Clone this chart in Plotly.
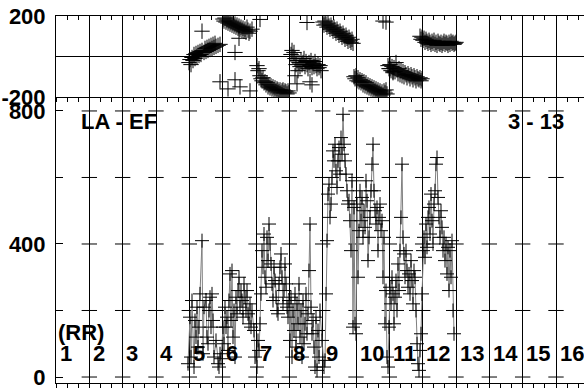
"""Two-panel trace: phase (top) and RR values (bottom) over hours 1-16."""
import plotly.graph_objects as go

# bottom panel: RR series (hour, value)
rr_hour = [4.96, 5.02, 5.05, 5.08, 5.14, 5.17, 5.20, 5.23, 5.26, 5.29, 5.32, 5.38, 5.41, 5.44,
           5.50, 5.53, 5.56, 5.59, 5.62, 5.65, 5.68, 5.71, 5.74, 5.80, 5.86, 5.89, 5.92, 5.95,
           6.01, 6.04, 6.07, 6.10, 6.13, 6.16, 6.19, 6.22, 6.25, 6.28, 6.31, 6.34, 6.37, 6.40,
           6.43, 6.46, 6.49, 6.52, 6.55, 6.58, 6.61, 6.64, 6.67, 6.70, 6.73, 6.76, 6.79, 6.82,
           6.85, 6.88, 6.94, 6.97,
           7.03, 7.06, 7.09, 7.12, 7.15, 7.18, 7.21, 7.24, 7.27, 7.30, 7.33, 7.36, 7.39, 7.42,
           7.45, 7.48, 7.51, 7.54, 7.57, 7.60, 7.63, 7.66, 7.69, 7.72, 7.75, 7.78, 7.81, 7.84,
           7.87, 7.90, 7.93, 7.96, 7.99, 8.02,
           8.05, 8.08, 8.11, 8.14, 8.17, 8.20, 8.23, 8.26, 8.29, 8.32, 8.35, 8.38, 8.41, 8.44,
           8.47, 8.50, 8.53, 8.56, 8.59, 8.62, 8.65, 8.68, 8.71, 8.74, 8.77, 8.80, 8.83, 8.86,
           8.89, 8.92, 8.98,
           9.04, 9.07, 9.10, 9.13, 9.16, 9.19, 9.22, 9.25, 9.28, 9.31, 9.34, 9.37, 9.40, 9.43,
           9.46, 9.49, 9.52, 9.55, 9.58, 9.61, 9.64, 9.67, 9.70, 9.73, 9.76, 9.79, 9.82, 9.85,
           9.88, 9.91, 9.94, 9.97, 10.00,
           10.03, 10.06, 10.09, 10.12, 10.15, 10.18, 10.21, 10.24, 10.27, 10.30, 10.33, 10.36,
           10.39, 10.42, 10.45, 10.48, 10.51, 10.54, 10.57, 10.60, 10.63, 10.66, 10.69, 10.72,
           10.75, 10.78, 10.81, 10.84, 10.87, 10.90, 10.93, 10.96,
           10.99, 11.02, 11.05, 11.08, 11.11, 11.14, 11.17, 11.20, 11.23, 11.26, 11.29, 11.32,
           11.35, 11.38, 11.41, 11.44, 11.47, 11.50, 11.53, 11.56, 11.59, 11.62, 11.65, 11.68,
           11.71, 11.74, 11.77, 11.80, 11.83, 11.86, 11.89, 11.92, 11.95, 11.98,
           12.01, 12.04, 12.07, 12.10, 12.13, 12.16, 12.19, 12.22, 12.25, 12.28, 12.31, 12.34,
           12.37, 12.40, 12.43, 12.46, 12.49, 12.52, 12.55, 12.58, 12.61, 12.64, 12.67, 12.70,
           12.73, 12.76, 12.79, 12.82, 12.85, 12.88, 12.91, 12.94]
rr_value = [40, 180, 60, 230, 30, 170, 120, 210, 90, 150, 250, 410, 70, 210,
            230, 120, 100, 200, 240, 150, 250, 170, 60, 110, 40, 30, 70, 55,
            150, 100, 210, 150, 180, 80, 230, 310, 170, 320, 120, 200, 60, 240,
            190, 260, 300, 210, 260, 230, 180, 280, 240, 200, 260, 190, 160, 220,
            150, 200, 140, 60,
            30, 110, 80, 160, 250, 380, 330, 430, 300, 270, 420, 350, 460, 400,
            340, 280, 230, 330, 290, 240, 200, 190, 280, 330, 370, 300, 220, 260,
            340, 280, 210, 180, 230, 110,
            240, 60, 200, 140, 250, 90, 220, 160, 280, 120, 200, 60, 230, 100,
            160, 250, 130, 190, 320, 460, 210, 130, 170, 90, 30, 180, 20, 140,
            60, 200, 110,
            30, 50, 250, 410, 550, 580, 480, 520, 600, 680, 650, 700, 620, 570,
            650, 690, 610, 720, 670, 790, 700, 650, 610, 560, 520, 530, 470, 380,
            590, 150, 510, 160, 130,
            520, 300, 440, 560, 470, 540, 420, 500, 450, 590, 530, 350,
            420, 480, 560, 640, 700, 560, 500, 460, 510, 380, 480, 520,
            440, 470, 300, 420, 160, 260, 60, 30,
            150, 270, 220, 300, 250, 160, 240, 290, 200, 340, 260, 380,
            480, 640, 420, 370, 300, 380, 320, 270, 310, 250, 350, 290,
            220, 320, 300, 200, 100, 40, 20, 80, 130, 250,
            380, 420, 360, 460, 390, 480, 510, 430, 550, 470, 400, 520,
            560, 640, 660, 540, 480, 420, 500, 450, 380, 420, 350, 400,
            310, 390, 260, 380, 300, 410, 200, 130]

# top panel: phase (hour, degrees)
phase_hour = [4.99, 5.02, 5.05, 5.08, 5.11, 5.14, 5.17, 5.20, 5.23, 5.26, 5.29, 5.32, 5.35, 5.38,
              5.44, 5.47, 5.50, 5.53, 5.56, 5.59, 5.62, 5.65, 5.68, 5.71, 5.74, 5.77, 5.80, 5.86,
              5.92,
              5.38, 5.92, 6.37, 6.49, 6.16, 6.37, 6.52, 6.82,
              6.01, 6.04, 6.07, 6.10, 6.13, 6.16, 6.19, 6.22, 6.25, 6.28, 6.31, 6.34, 6.37, 6.40,
              6.43, 6.46, 6.49, 6.52, 6.55, 6.58, 6.61, 6.64, 6.67, 6.70, 6.73, 6.76, 6.79, 6.82,
              6.88, 7.12,
              7.03, 7.06, 7.09, 7.12, 7.15, 7.18, 7.21, 7.24, 7.27, 7.30, 7.33, 7.36, 7.39, 7.42,
              7.45, 7.48, 7.51, 7.54, 7.57, 7.60, 7.63, 7.66, 7.69, 7.72, 7.75, 7.78, 7.81, 7.84,
              7.87, 7.90, 7.93, 7.96, 7.99,
              8.05, 8.08, 8.11, 8.14, 8.17, 8.20, 8.23, 8.26, 8.29, 8.32, 8.35, 8.38, 8.41, 8.44,
              8.47, 8.50, 8.53, 8.56, 8.59, 8.62, 8.65, 8.68, 8.71, 8.74, 8.77, 8.80, 8.83, 8.86,
              8.89, 8.92, 8.95,
              8.17, 8.23, 8.62, 8.68, 8.53,
              9.01, 9.04, 9.07, 9.10, 9.13, 9.16, 9.19, 9.22, 9.25, 9.28, 9.31, 9.34, 9.37, 9.40,
              9.43, 9.46, 9.49, 9.52, 9.55, 9.58, 9.61, 9.64, 9.67, 9.70, 9.73, 9.76, 9.79, 9.82,
              9.85, 9.88, 9.91,
              9.94, 9.97, 10.00, 10.03, 10.06, 10.09, 10.12, 10.15, 10.18, 10.21, 10.24, 10.27,
              10.30, 10.33, 10.36, 10.39, 10.42, 10.45, 10.48, 10.51, 10.54, 10.57, 10.60, 10.63,
              10.66, 10.69, 10.72, 10.75, 10.78, 10.81, 10.84, 10.87, 10.90, 10.93,
              10.81, 10.90, 11.11, 11.02,
              10.96, 10.99, 11.02, 11.05, 11.08, 11.11, 11.14, 11.17, 11.20, 11.23, 11.26, 11.29,
              11.32, 11.35, 11.38, 11.41, 11.44, 11.47, 11.50, 11.53, 11.56, 11.59, 11.62, 11.65,
              11.68, 11.71, 11.74, 11.77, 11.80, 11.83, 11.86, 11.89, 11.92, 11.95, 11.98,
              11.92, 11.95, 11.98, 12.01, 12.04, 12.07, 12.10, 12.13, 12.16, 12.19, 12.22, 12.25,
              12.28, 12.31, 12.34, 12.37, 12.40, 12.43, 12.46, 12.49, 12.52, 12.55, 12.58, 12.61,
              12.64, 12.67, 12.70, 12.73, 12.76, 12.79, 12.82, 12.85, 12.88, 12.91, 12.94, 12.97,
              13.00]
phase_value = [-30, -15, -40, -5, -20, 10, -10, 15, 0, 20, 5, 25, 10, 30,
               20, 40, 25, 45, 30, 50, 35, 55, 40, 60, 45, 65, 50, 55,
               60,
               125, -125, 20, 90, -160, -115, -150, -170,
               185, 175, 190, 170, 180, 165, 175, 160, 170, 155, 165, 150, 160, 145,
               155, 140, 150, 135, 145, 130, 140, 125, 135, 120, 145, 130, 115, 125,
               135, 183,
               -45, -70, -60, -95, -110, -120, -105, -130, -125, -140, -130, -150, -140, -155,
               -145, -160, -150, -165, -155, -170, -160, -165, -175, -165, -180, -170, -165, -180,
               -170, -175, -185, -170, -180,
               10, 30, 0, 20, -10, -40, -20, -70, -30, -50, -20, -40, -30, -10,
               -50, -25, -40, -60, -30, -45, -20, -55, -35, -50, -25, -45, -60, -40,
               -55, -45, -70,
               -95, -135, -125, -140, 168,
               170, 155, 175, 160, 145, 165, 150, 135, 155, 140, 125, 145, 130, 115,
               135, 120, 105, 125, 110, 95, 115, 100, 85, 105, 90, 75, 95, 80,
               70, 85, 65,
               -100, -110, -95, -120, -105, -125, -115, -130, -120, -140, -125, -145,
               -130, -150, -140, -155, -145, -160, -150, -165, -155, -170, -160, -175,
               -165, -180, -170, -185, -175, -190, -170, -180, -165, -185,
               175, 170, -75, -60,
               -45, -60, -40, -70, -50, -80, -55, -75, -30, -65, -85, -60,
               -90, -70, -95, -75, -100, -80, -90, -105, -85, -95, -110, -90,
               -100, -115, -95, -105, -120, -100, -110, -115, -105, -120, -110,
               100, 85, 95, 80, 90, 70, 85, 75, 65, 80, 70, 60,
               75, 65, 80, 60, 70, 55, 75, 65, 60, 70, 55, 65,
               75, 60, 70, 65, 55, 70, 60, 75, 65, 70, 60, 65,
               70]

hour_ticks = list(range(1, 17))
rr_ticks = [0, 200, 400, 600, 800]
rr_ticktext = ['0', '', '400', '', '800']
phase_ticks = [-200, 200]
phase_ticktext = ['-200', '200']

FONT = dict(family='Liberation Sans, Arial', size=22, color='black', weight='bold')
X_RANGE = [1, 16.84]
SPLIT = 0.7793

fig = go.Figure()

# small horizontal dashes where each hour line meets a value level
dash_x = [h for h in hour_ticks[1:] for _ in rr_ticks]
dash_y = [v for _ in hour_ticks[1:] for v in rr_ticks]
fig.add_trace(go.Scatter(x=dash_x, y=dash_y, mode='markers', hoverinfo='skip',
                         marker=dict(symbol='line-ew', size=11, line=dict(color='black', width=1))))

fig.add_trace(go.Scatter(x=rr_hour, y=rr_value, mode='lines+markers',
                         line=dict(color='#808080', width=1),
                         marker=dict(symbol='cross-thin-open', size=10, color='black',
                                     line=dict(color='black', width=1))))

fig.add_trace(go.Scatter(x=phase_hour, y=phase_value, mode='markers', xaxis='x2', yaxis='y2',
                         marker=dict(symbol='cross-thin-open', size=11, color='black',
                                     line=dict(color='black', width=1))))
# invisible trace so the top-side overlay axis is drawn
fig.add_trace(go.Scatter(x=[X_RANGE[0]], y=[0], mode='markers', xaxis='x3', yaxis='y2',
                         marker=dict(opacity=0), hoverinfo='skip'))

minor_out = dict(tick0=1, dtick=1 / 3, ticks='outside', ticklen=4, tickcolor='black')
minor_in = dict(tick0=1, dtick=1 / 3, ticks='inside', ticklen=4, tickcolor='black')
xcommon = dict(range=X_RANGE, tickmode='linear', tick0=1, dtick=1, showticklabels=False,
               showline=True, linecolor='black', linewidth=1, zeroline=False,
               tickcolor='black', ticklen=4, automargin=False)

fig.update_layout(
    width=584, height=390,
    margin=dict(l=56, r=0, t=16, b=7, autoexpand=False),
    paper_bgcolor='white', plot_bgcolor='white',
    showlegend=False,
    xaxis=dict(**xcommon, domain=[0, 1], anchor='y', ticks='outside', minor=minor_out,
               showgrid=True, gridcolor='black', gridwidth=1),
    xaxis2=dict(**xcommon, domain=[0, 1], anchor='y2', ticks='outside', minor=minor_out,
                showgrid=True, gridcolor='black', gridwidth=1),
    xaxis3=dict(**xcommon, anchor='y2', overlaying='x2', side='top', ticks='inside',
                minor=minor_in, showgrid=False),
    yaxis=dict(domain=[0, SPLIT], range=[-18, 842], tickmode='array', tickvals=rr_ticks,
               ticktext=rr_ticktext, ticks='inside', ticklen=7, tickcolor='black',
               showline=True, linecolor='black', showgrid=False, zeroline=False,
               tickfont=FONT, ticklabelstandoff=5, automargin=False),
    yaxis2=dict(domain=[SPLIT, 1], range=[-200, 200], tickmode='array', tickvals=phase_ticks,
                ticktext=phase_ticktext,
                ticks='', showline=True, linecolor='black', showgrid=False,
                zeroline=True, zerolinecolor='black', zerolinewidth=1,
                tickfont=FONT, ticklabelstandoff=5, automargin=False),
)

# hour labels inside the lower panel
for h in hour_ticks:
    fig.add_annotation(x=h + 0.05, y=72, text=str(h), showarrow=False, xanchor='left',
                       yanchor='middle', font=FONT, xref='x', yref='y')

fig.add_annotation(x=1.0, y=135, text='(RR)', showarrow=False, xanchor='left',
                   yanchor='middle', font=FONT, xref='x', yref='y')
fig.add_annotation(x=1.68, y=767, text='LA - EF', showarrow=False, xanchor='left',
                   yanchor='middle', font=FONT, xref='x', yref='y')
fig.add_annotation(x=14.5, y=767, text='3 - 13', showarrow=False, xanchor='left',
                   yanchor='middle', font=FONT, xref='x', yref='y')

# the page's default body margin would shift the figure by 8px
fig.write_html("out.html", config={'displayModeBar': False},
               post_script="document.body.style.margin = '0';")
